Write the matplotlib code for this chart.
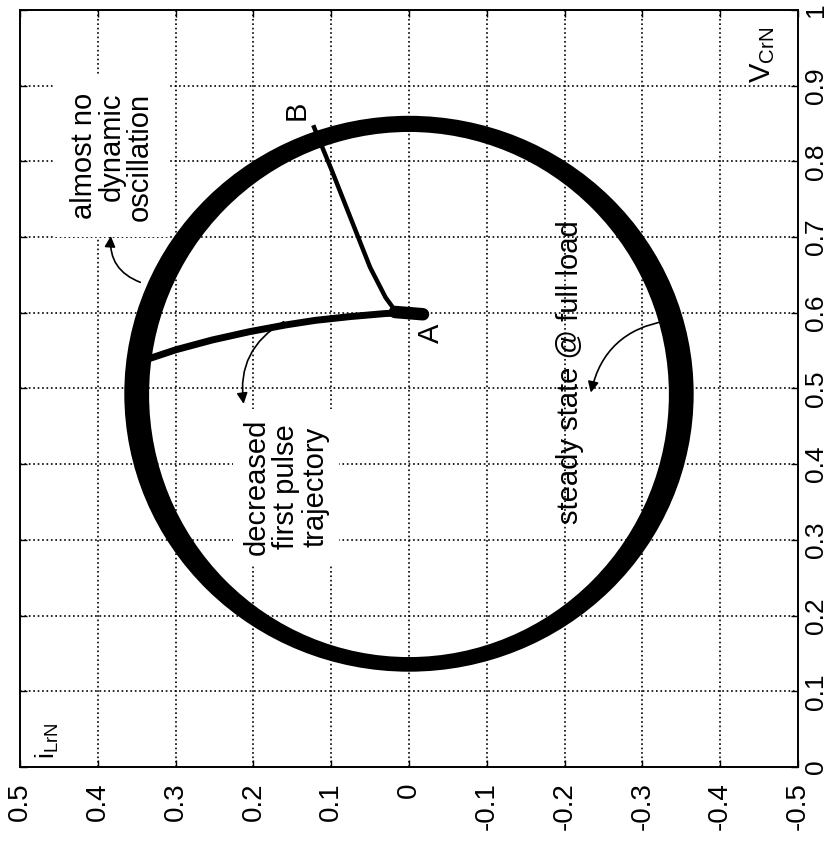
import matplotlib
matplotlib.use('Agg')
import matplotlib.pyplot as plt
from matplotlib.patches import Ellipse

plt.rcParams['font.family'] = ['Liberation Sans', 'DejaVu Sans']

# axis ticks (i_LrN runs along the bottom, V_CrN along the right side)
i_ticks = [0.5, 0.4, 0.3, 0.2, 0.1, 0.0, -0.1, -0.2, -0.3, -0.4, -0.5]
i_labels = ['0.5', '0.4', '0.3', '0.2', '0.1', '0', '-0.1', '-0.2', '-0.3', '-0.4', '-0.5']
v_ticks = [0.0, 0.1, 0.2, 0.3, 0.4, 0.5, 0.6, 0.7, 0.8, 0.9, 1.0]
v_labels = ['0', '0.1', '0.2', '0.3', '0.4', '0.5', '0.6', '0.7', '0.8', '0.9', '1']

# steady state orbits @ full load (overlapping loops -> thick ring)
ss_center_i = [0.0, 0.0]
ss_center_v = [0.493, 0.492]
ss_radius_i = [0.357, 0.343]
ss_radius_v = [0.358, 0.356]

# decreased first pulse trajectory: A -> ring
pulse_i = [0.0, 0.030, 0.075, 0.120, 0.158, 0.205, 0.253, 0.300, 0.338]
pulse_v = [0.600, 0.599, 0.595, 0.590, 0.584, 0.575, 0.564, 0.551, 0.538]

# trajectory A -> B
ab_i = [0.020, 0.030, 0.050, 0.075, 0.100, 0.122]
ab_v = [0.606, 0.620, 0.660, 0.725, 0.790, 0.845]

# blob at point A
a_i = [0.018, -0.018]
a_v = [0.601, 0.598]

fig = plt.figure(figsize=(8.3, 8.43), dpi=100)
ax = fig.add_axes([0.0241, 0.0902, 0.9373, 0.898])

for ci, cv, ri, rv in zip(ss_center_i, ss_center_v, ss_radius_i, ss_radius_v):
    ax.add_patch(Ellipse((ci, cv), 2 * ri, 2 * rv, fill=False,
                         edgecolor='black', linewidth=10, zorder=3))

ax.plot(pulse_i, pulse_v, color='black', linewidth=5, zorder=3,
        solid_capstyle='round')
ax.plot(ab_i, ab_v, color='black', linewidth=3.2, zorder=3)
ax.plot(a_i, a_v, color='black', linewidth=9, zorder=3, solid_capstyle='round')

ax.set_xlim(0.5, -0.5)
ax.set_ylim(0, 1)
ax.set_xticks(i_ticks, i_labels, rotation=90)
ax.set_yticks(v_ticks, v_labels, rotation=90, va='center')
ax.tick_params(direction='in', length=5, width=1, labelsize=20,
               top=True, bottom=True, left=True, right=True,
               labelleft=False, labelright=True)
ax.tick_params(axis='x', pad=11)
ax.tick_params(axis='y', pad=4, labelsize=19)
ax.grid(True, linestyle=':', color='black', linewidth=1.2)
for s in ax.spines.values():
    s.set_linewidth(1.4)

# labels
ax.text(0.954, 0.94, r'$\mathregular{V_{CrN}}$', transform=ax.transAxes,
        rotation=90, ha='center', va='center', fontsize=21)
ax.text(0.035, 0.035, r'$\mathregular{i_{LrN}}$', transform=ax.transAxes,
        rotation=90, ha='center', va='center', fontsize=19)
ax.text(-0.028, 0.573, 'A', rotation=90, ha='center', va='center', fontsize=21)
ax.text(0.145, 0.867, 'B', rotation=90, ha='center', va='center', fontsize=21)

ax.text(0.382, 0.806, 'almost no\ndynamic\noscillation', rotation=90,
        ha='center', va='center', multialignment='right', fontsize=21,
        linespacing=1.0, zorder=4,
        bbox=dict(facecolor='white', edgecolor='none', pad=12))
ax.text(0.158, 0.370, 'decreased\nfirst pulse\ntrajectory', rotation=90,
        ha='center', va='center', multialignment='center', fontsize=21,
        linespacing=1.05, zorder=4,
        bbox=dict(facecolor='white', edgecolor='none', pad=7))
ax.text(-0.207, 0.522, 'steady state @ full load', rotation=90,
        ha='center', va='center', fontsize=21, zorder=4)

arrow = dict(arrowstyle='-|>', color='black', lw=1.2, mutation_scale=16)
ax.annotate('', xy=(0.383, 0.705), xytext=(0.342, 0.639),
            arrowprops=dict(arrow, connectionstyle='arc3,rad=-0.4'), zorder=4)
ax.annotate('', xy=(0.212, 0.476), xytext=(0.158, 0.590),
            arrowprops=dict(arrow, connectionstyle='arc3,rad=0.35'), zorder=4)
ax.annotate('', xy=(-0.233, 0.491), xytext=(-0.335, 0.590),
            arrowprops=dict(arrow, connectionstyle='arc3,rad=0.35'), zorder=4)

fig.savefig('out.png', dpi=100)
